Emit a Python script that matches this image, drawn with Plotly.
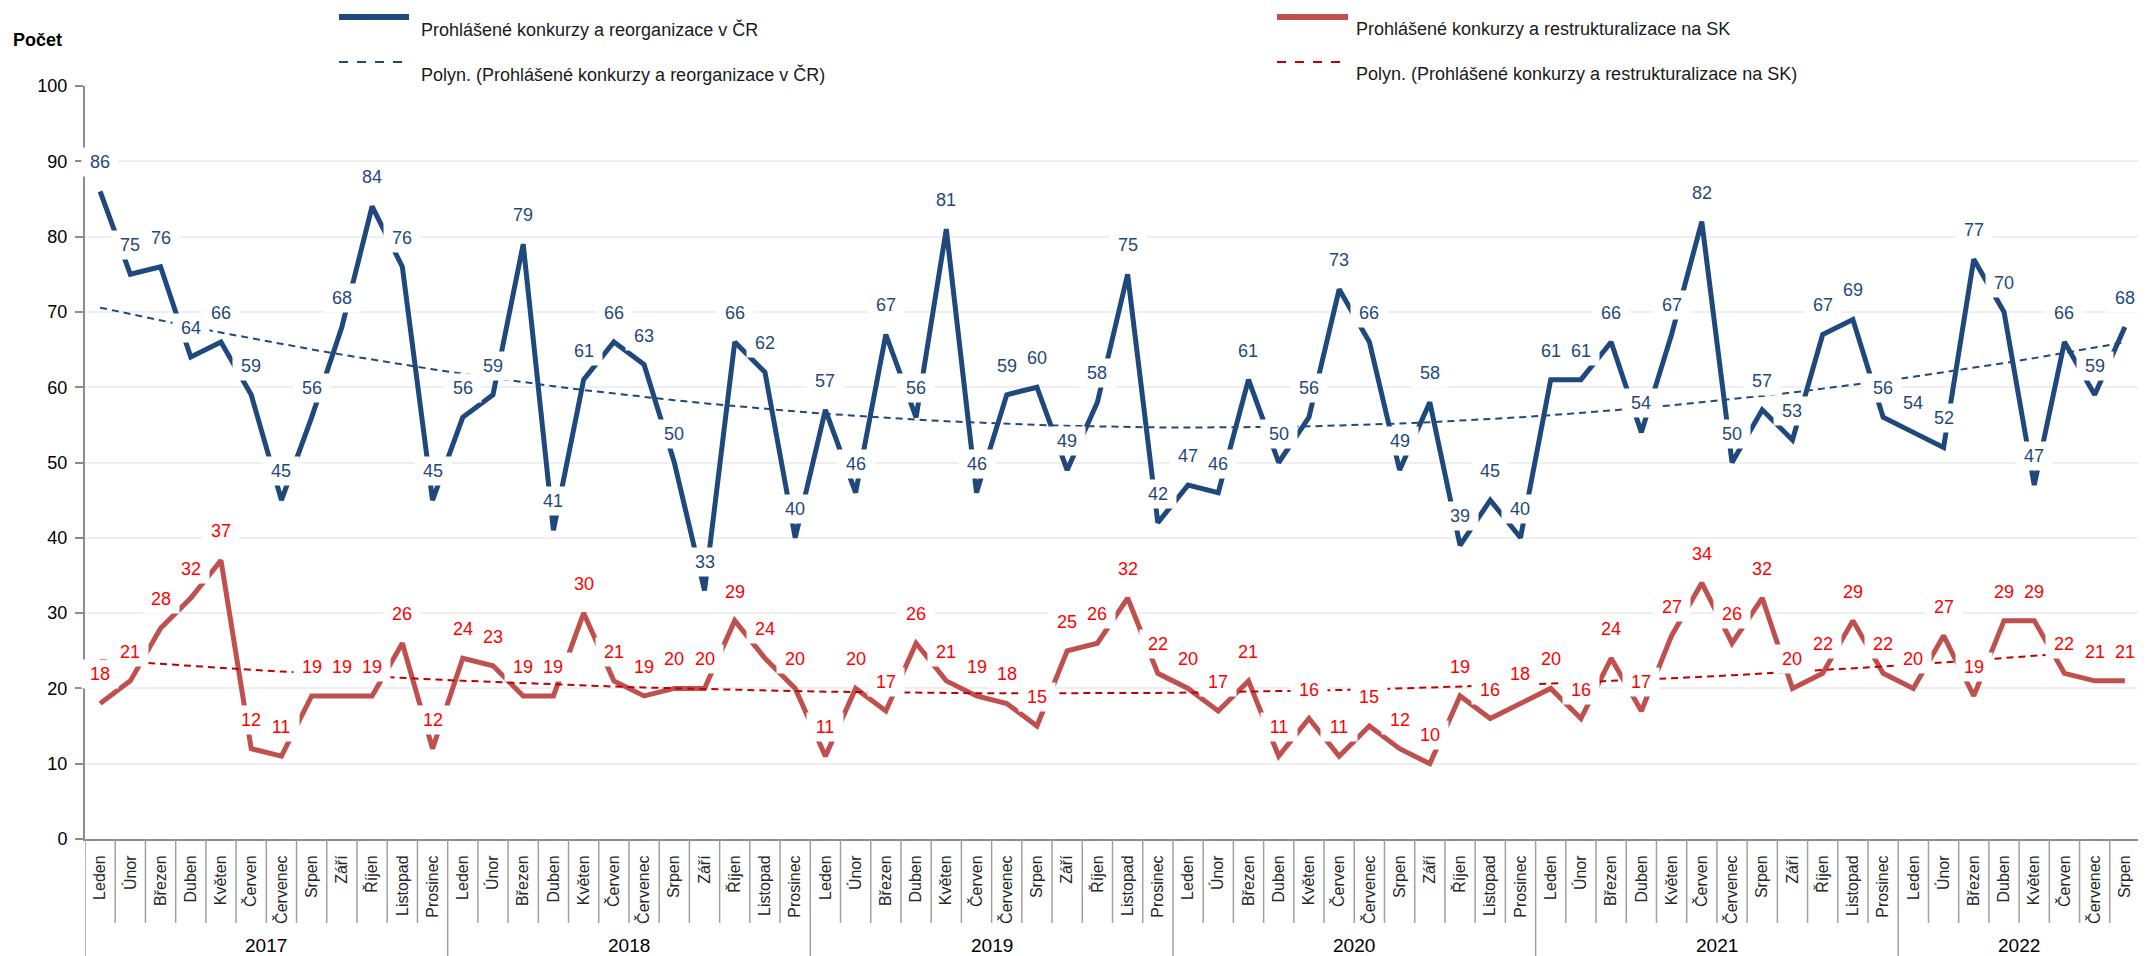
import numpy as np
import plotly.graph_objects as go

months = ["Leden", "Únor", "Březen", "Duben", "Květen", "Červen",
          "Červenec", "Srpen", "Září", "Říjen", "Listopad", "Prosinec"]
years = ["2017", "2018", "2019", "2020", "2021", "2022"]

cz_name = "Prohlášené konkurzy a reorganizace v ČR"
sk_name = "Prohlášené konkurzy a restrukturalizace na SK"

cz_values = [86, 75, 76, 64, 66, 59, 45, 56, 68, 84, 76, 45,
             56, 59, 79, 41, 61, 66, 63, 50, 33, 66, 62, 40,
             57, 46, 67, 56, 81, 46, 59, 60, 49, 58, 75, 42,
             47, 46, 61, 50, 56, 73, 66, 49, 58, 39, 45, 40,
             61, 61, 66, 54, 67, 82, 50, 57, 53, 67, 69, 56,
             54, 52, 77, 70, 47, 66, 59, 68]
sk_values = [18, 21, 28, 32, 37, 12, 11, 19, 19, 19, 26, 12,
             24, 23, 19, 19, 30, 21, 19, 20, 20, 29, 24, 20,
             11, 20, 17, 26, 21, 19, 18, 15, 25, 26, 32, 22,
             20, 17, 21, 11, 16, 11, 15, 12, 10, 19, 16, 18,
             20, 16, 24, 17, 27, 34, 26, 32, 20, 22, 29, 22,
             20, 27, 19, 29, 29, 22, 21, 21]

n = len(cz_values)
idx = np.arange(n)
month_labels = [months[i % 12] for i in range(n)]

# polynomial trendlines (order 2), like Excel's "Polyn." trend
cz_trend = np.polyval(np.polyfit(idx, cz_values, 2), idx)
sk_trend = np.polyval(np.polyfit(idx, sk_values, 2), idx)

BLUE = "#1f497d"
RED = "#c0504d"
RED_LABEL = "#ff0000"
RED_TREND = "#c00000"
FONT = "Liberation Sans, Arial, sans-serif"

# page body has an 8px margin, so the figure sits at (8, 8) in the window
OFF = 8
W, H = 2146 - OFF, 956 - OFF
# plot area in window pixels
X0, X1, Y0, Y1 = 85, 2140, 86, 839
PW = X1 - X0
PH = Y1 - Y0


def px(xp):
    return (xp - X0) / PW


def py(yp):
    return (Y1 - yp) / PH


fig = go.Figure()
fig.add_trace(go.Scatter(x=idx, y=cz_values, mode="lines", name=cz_name,
                         line=dict(color=BLUE, width=5), hoverinfo="y"))
fig.add_trace(go.Scatter(x=idx, y=sk_values, mode="lines", name=sk_name,
                         line=dict(color=RED, width=5), hoverinfo="y"))
fig.add_trace(go.Scatter(x=idx, y=cz_trend, mode="lines", name="Polyn. (" + cz_name + ")",
                         line=dict(color=BLUE, width=2, dash="7px,5px"), hoverinfo="skip"))
fig.add_trace(go.Scatter(x=idx, y=sk_trend, mode="lines", name="Polyn. (" + sk_name + ")",
                         line=dict(color=RED_TREND, width=2, dash="7px,5px"), hoverinfo="skip"))

annotations = []
# data labels with white boxes, placed above each point
for i in range(n):
    annotations.append(dict(x=i, y=cz_values[i], xref="x", yref="y", text=str(cz_values[i]),
                            showarrow=False, yshift=29, bgcolor="white", width=34, height=26,
                            font=dict(family=FONT, size=18, color=BLUE)))
for i in range(n):
    annotations.append(dict(x=i, y=sk_values[i], xref="x", yref="y", text=str(sk_values[i]),
                            showarrow=False, yshift=29, bgcolor="white", width=34, height=26,
                            font=dict(family=FONT, size=18, color=RED_LABEL)))

# year labels under the month labels
for k, yr in enumerate(years):
    start = k * 12
    end = min(start + 11, n - 1)
    annotations.append(dict(x=(start + end) / 2, y=py(933), xref="x", yref="paper", text=yr,
                            yanchor="top", showarrow=False,
                            font=dict(family=FONT, size=19, color="#000000")))

annotations.append(dict(x=px(11), y=py(28), xref="paper", yref="paper", text="<b>Počet</b>",
                        xanchor="left", showarrow=False,
                        font=dict(family=FONT, size=18, color="#000000")))

# legend drawn by hand: thick solid line samples and dashed samples
shapes = []
legend_items = [
    (339, 409, 419, 17, BLUE, 6, "solid", cz_name),
    (1277, 1348, 1354, 17, RED, 6, "solid", sk_name),
    (339, 409, 419, 62, BLUE, 2, "dash", "Polyn. (" + cz_name + ")"),
    (1277, 1348, 1354, 62, RED_TREND, 2, "dash", "Polyn. (" + sk_name + ")"),
]
for x0, x1, xt, yl, col, lw, dash, label in legend_items:
    shapes.append(dict(type="line", xref="paper", yref="paper", x0=px(x0), x1=px(x1),
                       y0=py(yl), y1=py(yl), line=dict(color=col, width=lw, dash=dash)))
    annotations.append(dict(x=px(xt), y=py(yl), xref="paper", yref="paper", text=label,
                            xanchor="left", showarrow=False,
                            font=dict(family=FONT, size=18, color="#1a1a1a")))

# category separators below the x axis
for b in range(n + 1):
    y_end = py(960) if (b % 12 == 0 or b == n) else py(923)
    shapes.append(dict(type="line", xref="x", yref="paper", x0=b - 0.5, x1=b - 0.5,
                       y0=0, y1=y_end, line=dict(color="#a0a0a0", width=1.5)))

fig.update_layout(
    width=W, height=H,
    margin=dict(l=X0 - OFF, r=W + OFF - X1, t=Y0 - OFF, b=H + OFF - Y1),
    paper_bgcolor="white", plot_bgcolor="white",
    showlegend=False,
    font=dict(family=FONT, color="#000000"),
    annotations=annotations,
    shapes=shapes,
    xaxis=dict(range=[-0.5, n - 0.5], tickmode="array", tickvals=idx, ticktext=month_labels,
               tickangle=-90, ticks="", showgrid=False, zeroline=False,
               showline=True, linecolor="#8c8c8c", linewidth=2,
               ticklabelstandoff=8,
               tickfont=dict(family=FONT, size=16, color="#262626")),
    yaxis=dict(range=[0, 100], dtick=10, ticks="outside", ticklen=8, tickcolor="#8c8c8c",
               tickwidth=1.5, showline=True, linecolor="#8c8c8c", linewidth=2,
               showgrid=True, gridcolor="#efefef", gridwidth=2, zeroline=False,
               ticklabelstandoff=4,
               tickfont=dict(family=FONT, size=18, color="#000000")),
)

fig.write_html("out.html")
